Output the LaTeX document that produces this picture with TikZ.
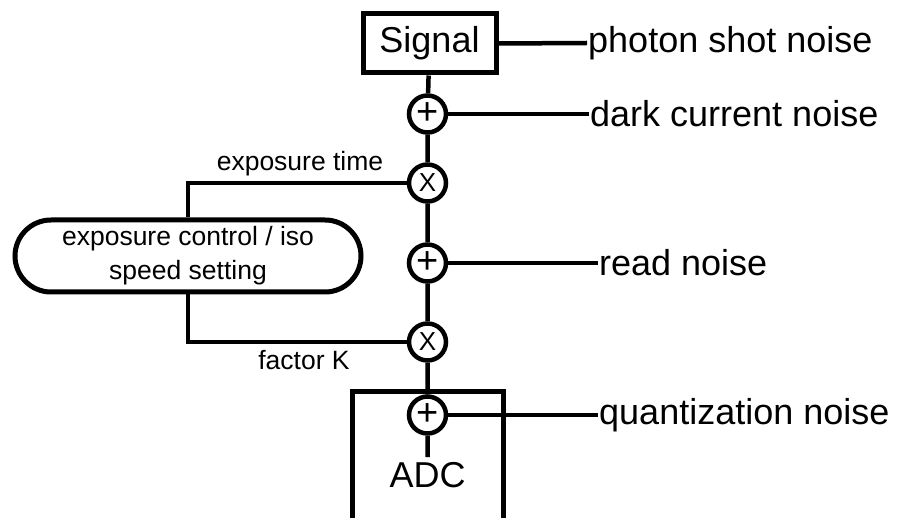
\documentclass[tikz,border=0pt]{standalone}
\usepackage{fontspec}
\setmainfont{Liberation Sans}
\usetikzlibrary{shapes.misc}
\begin{document}
\begin{tikzpicture}[
  x=1pt, y=-1pt,
  wire/.style={line width=4.5pt},
  blk/.style={draw, line width=5pt, inner sep=0pt,
    font=\fontsize{36}{40}\selectfont},
  op/.style={draw, circle, line width=4.5pt, inner sep=0pt, minimum size=37pt,
    fill=white, font=\fontsize{#1}{#1}\selectfont},
  noise/.style={anchor=west, inner sep=1pt, font=\fontsize{36}{40}\selectfont},
  lbl/.style={font=\fontsize{26.5}{34}\selectfont}
]
  \useasboundingbox (0,0) rectangle (907,518);

  % Blocks
  \node[blk, minimum width=133pt, minimum height=59pt] (signal) at (429.5,43.5) {Signal};
  \node[blk, minimum width=151pt, minimum height=169pt] (adc) at (427.5,475.5) {ADC};
  \node[blk, rounded rectangle, minimum width=346pt, minimum height=72pt,
    align=center, font=\fontsize{26.5}{34}\selectfont] (ctrl) at (188,256)
    {exposure control / iso\\speed setting};

  % Operators
  \node[op=38] (sum1) at (427.5,114) {+};
  \node[op=26] (mul1) at (427.5,183) {X};
  \node[op=38] (sum2) at (427.5,263) {+};
  \node[op=26] (mul2) at (427.5,342) {X};
  \node[op=38] (sum3) at (427.5,415) {+};
  \coordinate (adcin) at (427.5,457);

  % Noise sources
  \node[noise] (shot)  at (587,43)  {photon shot noise};
  \node[noise] (dark)  at (589,114) {dark current noise};
  \node[noise] (read)  at (598,263) {read noise};
  \node[noise] (quant) at (598,415) {quantization noise};

  % Signal chain
  \draw[wire] (signal) -- (sum1) -- (mul1) -- (sum2) -- (mul2) -- (sum3) -- (adcin);
  \draw[wire] (signal.east) -- (shot.west);
  \draw[wire] (sum1.east) -- (dark.west);
  \draw[wire] (sum2.east) -- (read.west);
  \draw[wire] (sum3.east) -- (quant.west);

  % Control lines
  \draw[wire] (ctrl.north) |- (mul1.west);
  \draw[wire] (ctrl.south) |- (mul2.west);
  \node[lbl] (tlbl) at (300,164) {exposure time};
  \node[lbl] (klbl) at (304,360) {factor K};
\end{tikzpicture}
\end{document}
